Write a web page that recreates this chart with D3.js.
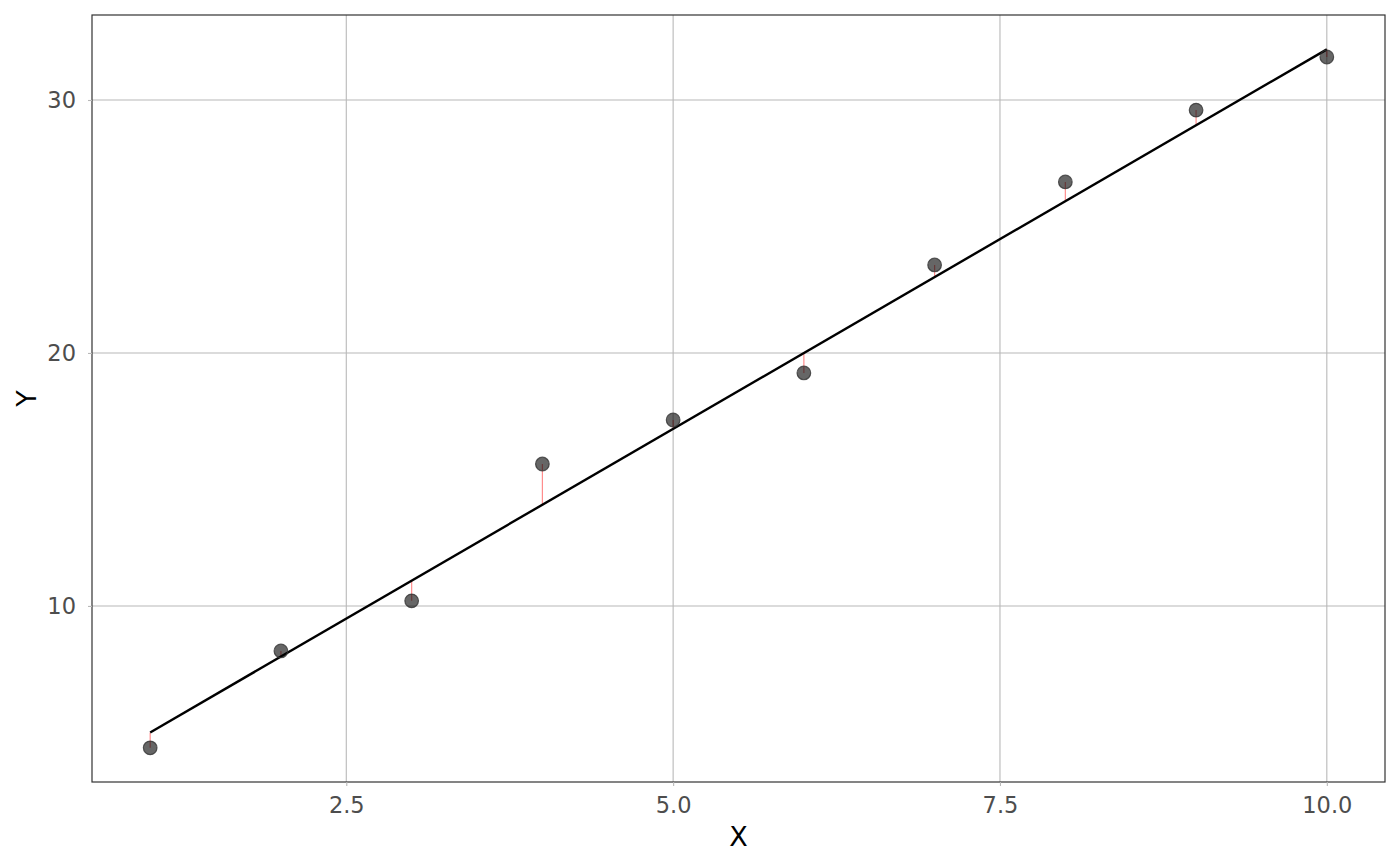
<!DOCTYPE html>
<html><head><meta charset="utf-8">
<script src="https://cdn.jsdelivr.net/npm/d3@7"></script>
<style>body{margin:0;background:#fff;}svg{display:block;font-family:"DejaVu Sans",sans-serif;}</style>
</head><body>
<svg id="c" width="1400" height="866"></svg>
<script>
const xValues = [1,2,3,4,5,6,7,8,9,10];
const yValues = [4.39,8.22,10.20,15.61,17.35,19.21,23.48,26.76,29.60,31.70];
const lineCoef = [2, 3]; // intercept, slope of drawn line
const xTicks = [2.5,5.0,7.5,10.0];
const yTicks = [10,20,30];

const svg = d3.select("#c");
const L=92,R=1385,T=15,B=782;
const x = d3.scaleLinear().domain([0.555,10.445]).range([L,R]);
const y = d3.scaleLinear().domain([3.04,33.36]).range([B,T]);
const fit=v=>lineCoef[0]+lineCoef[1]*v;

svg.append("rect").attr("x",L).attr("y",T).attr("width",R-L).attr("height",B-T).attr("fill","#fff");
// grid
svg.append("g").selectAll("line").data(xTicks).join("line")
  .attr("x1",d=>x(d)).attr("x2",d=>x(d)).attr("y1",T).attr("y2",B).attr("stroke","#b8b8b8").attr("stroke-width",1.1);
svg.append("g").selectAll("line").data(yTicks).join("line")
  .attr("y1",d=>y(d)).attr("y2",d=>y(d)).attr("x1",L).attr("x2",R).attr("stroke","#b8b8b8").attr("stroke-width",1.1);

// residuals
svg.append("g").selectAll("line").data(xValues).join("line")
  .attr("x1",d=>x(d)).attr("x2",d=>x(d))
  .attr("y1",(d,i)=>y(yValues[i])).attr("y2",d=>y(fit(d)))
  .attr("stroke","#ff0000").attr("stroke-opacity",0.45).attr("stroke-width",1.2);

// fit line
const xe=d3.extent(xValues);
svg.append("line").attr("x1",x(xe[0])).attr("y1",y(fit(xe[0]))).attr("x2",x(xe[1])).attr("y2",y(fit(xe[1])))
  .attr("stroke","#000").attr("stroke-width",2.4);

// points
svg.append("g").selectAll("circle").data(xValues).join("circle")
  .attr("cx",d=>x(d)).attr("cy",(d,i)=>y(yValues[i])).attr("r",6.8)
  .attr("fill","#000").attr("fill-opacity",0.6).attr("stroke","#333").attr("stroke-opacity",0.8).attr("stroke-width",1.2);

// border
svg.append("rect").attr("x",L).attr("y",T).attr("width",R-L).attr("height",B-T).attr("fill","none").attr("stroke","#333").attr("stroke-width",1.2);

// axes
const xa=svg.append("g").attr("transform",`translate(0,${B})`)
  .call(d3.axisBottom(x).tickValues(xTicks).tickFormat(d3.format(".1f")).tickSizeOuter(0).tickSize(4).tickPadding(11));
const ya=svg.append("g").attr("transform",`translate(${L},0)`)
  .call(d3.axisLeft(y).tickValues(yTicks).tickSizeOuter(0).tickSize(4).tickPadding(12));
[xa,ya].forEach(a=>{a.select(".domain").remove();a.selectAll(".tick line").attr("stroke","#b8b8b8").attr("stroke-width",1.1);
  a.selectAll(".tick text").attr("fill","#4d4d4d").style("font-size","22.5px").style("font-family","DejaVu Sans, sans-serif");});

svg.append("text").attr("x",(L+R)/2).attr("y",846).attr("text-anchor","middle").style("font-size","27px").attr("fill","#000").text("X");
svg.append("text").attr("transform",`translate(36,${(T+B)/2}) rotate(-90)`).attr("text-anchor","middle").style("font-size","27px").attr("fill","#000").text("Y");
</script>
</body></html>
